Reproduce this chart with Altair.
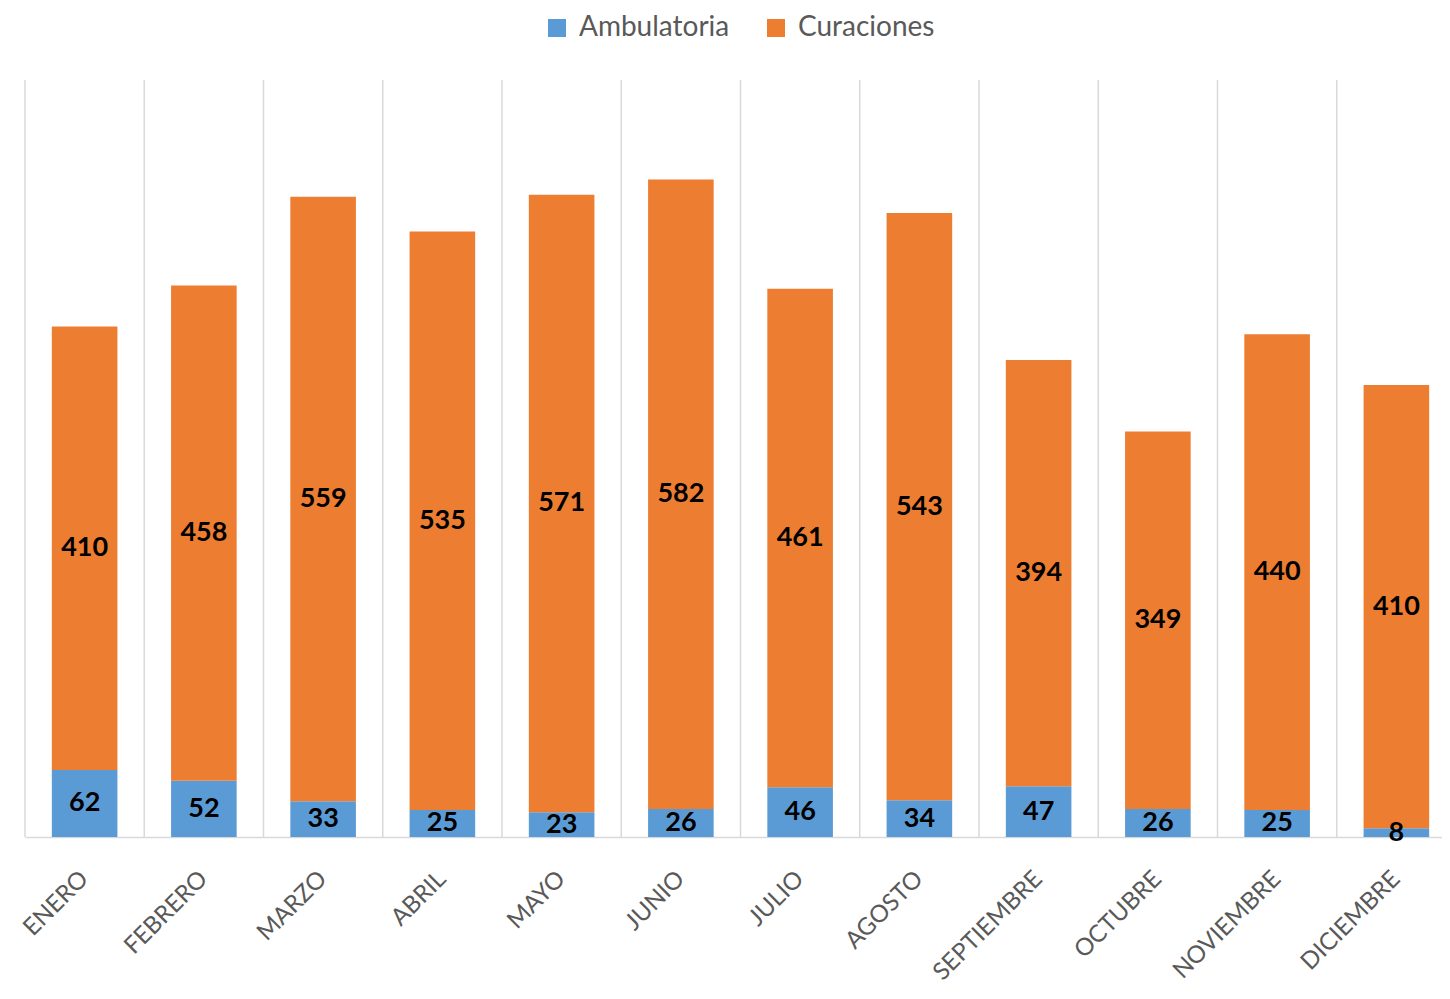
import altair as alt
import pandas as pd

months = ["ENERO", "FEBRERO", "MARZO", "ABRIL", "MAYO", "JUNIO", "JULIO",
          "AGOSTO", "SEPTIEMBRE", "OCTUBRE", "NOVIEMBRE", "DICIEMBRE"]
ambulatoria = [62, 52, 33, 25, 23, 26, 46, 34, 47, 26, 25, 8]
curaciones = [410, 458, 559, 535, 571, 582, 461, 543, 394, 349, 440, 410]
series = ["Ambulatoria", "Curaciones"]
colors = ["#5B9BD5", "#ED7D31"]

rows = []
for i, m in enumerate(months):
    rows.append({"mes": m, "serie": series[0], "valor": ambulatoria[i], "orden": 0})
    rows.append({"mes": m, "serie": series[1], "valor": curaciones[i], "orden": 1})
df = pd.DataFrame(rows)

W, H = 1431, 757
PI = 0.45
step = W / len(months)
xscale = alt.Scale(domain=months, paddingInner=PI, paddingOuter=PI / 2)
yscale = alt.Scale(domain=[0, 700], nice=False)
xaxis = alt.Axis(title=None, labelAngle=-45, labelAlign="right", labelBaseline="middle",
                 labelFont="Lato", labelFontSize=24, labelColor="#595959",
                 labelPadding=38, ticks=False, grid=False,
                 domainColor="#d9d9d9", domainWidth=1.5)

grid = alt.Chart(pd.DataFrame({"mes": months})).mark_rule(
    color="#d9d9d9", strokeWidth=1.5, xOffset=-PI / 2 * step
).encode(
    x=alt.X("mes:N", scale=xscale, axis=xaxis, sort=months, bandPosition=0),
    y=alt.value(0),
    y2=alt.value(H),
)

bars = alt.Chart(df).mark_bar().encode(
    x=alt.X("mes:N", scale=xscale, axis=xaxis, sort=months),
    y=alt.Y("valor:Q", stack="zero", scale=yscale, axis=None),
    color=alt.Color("serie:N", scale=alt.Scale(domain=series, range=colors),
                    legend=alt.Legend(title=None, orient="none", direction="horizontal",
                                      legendX=518, legendY=-66, symbolType="square",
                                      symbolSize=324, symbolStrokeWidth=0,
                                      labelFont="Lato", labelFontSize=28,
                                      labelColor="#595959", columnPadding=32,
                                      labelOffset=8)),
    order=alt.Order("orden:Q"),
)

labels = alt.Chart(df).transform_stack(
    stack="valor", groupby=["mes"], as_=["y0", "y1"], sort=[alt.SortField("orden")]
).transform_calculate(
    ymid="(datum.y0 + datum.y1) / 2"
).mark_text(
    font="Lato", fontWeight="bold", fontSize=27, color="black", baseline="middle"
).encode(
    x=alt.X("mes:N", scale=xscale, axis=xaxis, sort=months),
    y=alt.Y("ymid:Q", scale=yscale, axis=None),
    text="valor:Q",
)

chart = alt.layer(grid, bars, labels).properties(
    width=W, height=H,
    background="white",
    autosize=alt.AutoSizeParams(type="none"),
    padding={"left": 17, "top": 72, "right": -14, "bottom": 150},
).configure_view(stroke="transparent", strokeWidth=0)

chart.save("out.html", embed_options={"renderer": "svg", "actions": False})
